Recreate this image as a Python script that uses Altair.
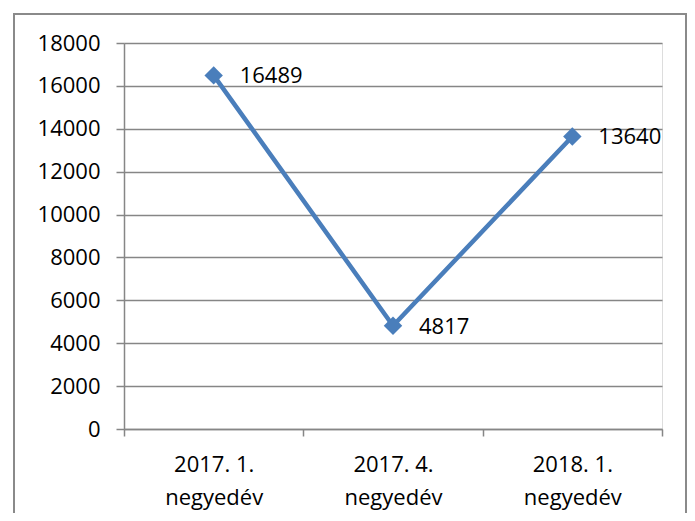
import altair as alt
import pandas as pd

categories = ["2017. 1.\nnegyedév", "2017. 4.\nnegyedév", "2018. 1.\nnegyedév"]
values = [16489, 4817, 13640]
y_ticks = [0, 2000, 4000, 6000, 8000, 10000, 12000, 14000, 16000, 18000]

df = pd.DataFrame({"cat": categories, "val": values})

FONT = "Open Sans"
GRAY = "#868686"
BLUE = "#4A7EBB"

x_enc = alt.X(
    "cat:N",
    sort=categories,
    scale=alt.Scale(type="band", paddingInner=0, paddingOuter=0),
    axis=alt.Axis(
        title=None,
        labelAngle=0,
        labelExpr="isValid(datum.value) ? split(datum.value, '\\n') : ''",
        tickBand="extent",
        labelFont=FONT,
        labelFontSize=22,
        labelLineHeight=33,
        labelColor="#000000",
        labelPadding=18,
        tickSize=7,
        tickColor=GRAY,
        tickWidth=1.5,
        domainColor=GRAY,
        domainWidth=1.5,
        grid=False,
    ),
)
y_enc = alt.Y(
    "val:Q",
    scale=alt.Scale(domain=[0, 18000], nice=False),
    axis=alt.Axis(
        title=None,
        values=y_ticks,
        format="d",
        labelFont=FONT,
        labelFontSize=22,
        labelColor="#000000",
        labelPadding=16,
        tickSize=8,
        tickColor=GRAY,
        tickWidth=1.5,
        domainColor=GRAY,
        domainWidth=1.5,
        grid=True,
        gridColor=GRAY,
        gridWidth=1.5,
    ),
)

base = alt.Chart(df)

line = base.mark_line(color=BLUE, strokeWidth=4.5).encode(x=x_enc, y=y_enc)
points = base.mark_point(shape="diamond", filled=True, color=BLUE, size=340, opacity=1).encode(x=x_enc, y=y_enc)
labels = base.mark_text(align="left", baseline="middle", dx=26, dy=1, font=FONT, fontSize=22, color="#000000").encode(
    x=x_enc, y=y_enc, text=alt.Text("val:Q", format="d")
)

frame = alt.Chart(pd.DataFrame({"a": [0]})).mark_rect(
    filled=False, stroke="#8a8a8a", strokeWidth=2
).encode(x=alt.value(-110), x2=alt.value(562), y=alt.value(-29), y2=alt.value(500))

chart = (
    alt.layer(frame, line, points, labels)
    .properties(
        width=538,
        height=386,
        autosize=alt.AutoSizeParams(type="none"),
        padding={"left": 116, "top": 35, "right": 25, "bottom": 84},
    )
    .configure_view(stroke=None)
    .configure(background="white")
)

chart.save("out.html", embed_options={"renderer": "svg", "actions": False})
